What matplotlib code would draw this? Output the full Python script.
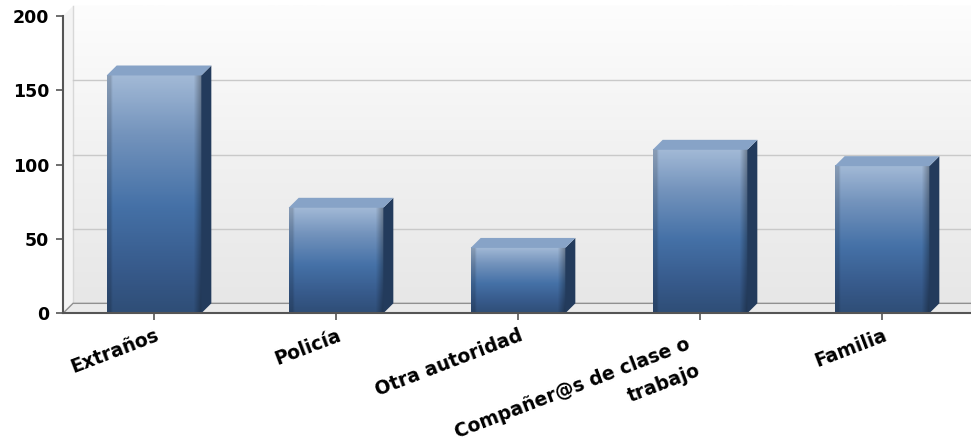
import numpy as np
import matplotlib
matplotlib.use('Agg')
import matplotlib.pyplot as plt
from matplotlib.colors import LinearSegmentedColormap
from matplotlib.patches import Polygon

# Datos
categorias = ['Extraños', 'Policía', 'Otra autoridad', 'Compañer@s de clase o\ntrabajo', 'Familia']
valores = [160, 71, 44, 110, 99]
ticks_y = [0, 50, 100, 150, 200]

# estilo
ancho = 0.52
dx, dy = 0.055, 6.7   # profundidad 3D en unidades de datos
frente = LinearSegmentedColormap.from_list('frente', [
    (0.0, '#2f4e77'), (0.18, '#375a8b'), (0.45, '#4571a7'),
    (0.75, '#7393bc'), (1.0, '#a2b9d6')])
color_top = '#87a3c7'
color_lado = '#233b5c'
rot = 21
fs_x = 13.5

plt.rcParams['font.family'] = ['DejaVu Sans']
fig = plt.figure(figsize=(9.71, 4.4), dpi=100)
ax = fig.add_axes([63 / 971, (440 - 313.3) / 440, 910 / 971, 297.3 / 440])
ax.set_xlim(-0.5, 4.5)
ax.set_ylim(0, 200)
ax.patch.set_visible(False)

x = np.arange(len(categorias))

# pared del fondo con degradado
fondo = np.linspace(0, 1, 200).reshape(-1, 1)
cm_fondo = LinearSegmentedColormap.from_list('fondo', ['#e7e7e7', '#f1f1f1', '#fdfdfd'])
ax.imshow(fondo, cmap=cm_fondo, origin='lower', aspect='auto',
          extent=[-0.5 + dx, 4.5 + dx, dy, 200 + dy], clip_on=False, zorder=0)
# pared izquierda
ax.add_patch(Polygon([(-0.5, 0), (-0.5 + dx, dy), (-0.5 + dx, 200 + dy), (-0.5, 200)],
                     closed=True, facecolor='#f4f4f4', edgecolor='none', clip_on=False, zorder=0.5))
ax.plot([-0.5 + dx, -0.5 + dx], [dy, 200 + dy], color='#d8d8d8', lw=1, clip_on=False, zorder=0.6)
# suelo
ax.add_patch(Polygon([(-0.5, 0), (4.5, 0), (4.5 + dx, dy), (-0.5 + dx, dy)],
                     closed=True, facecolor='#eaeaea', edgecolor='#909090', lw=1, clip_on=False, zorder=0.7))
# lineas de cuadricula en la pared del fondo
for v in ticks_y[1:-1]:
    ax.plot([-0.5 + dx, 4.5 + dx], [v + dy, v + dy], color='#c9c9c9', lw=1, clip_on=False, zorder=0.8)

# barras
sombra_h = np.ones(40)
sombra_h[:2] = 0.85
sombra_h[-3:] = [0.9, 0.8, 0.7]
for xi, v in zip(x, valores):
    l, r = xi - ancho / 2, xi + ancho / 2
    t = np.linspace(0, 1, 120)
    img = frente(t)[:, :3][:, None, :] * sombra_h[None, :, None]
    ax.imshow(img, origin='lower', aspect='auto', extent=[l, r, 0, v], zorder=2, interpolation='bilinear')
    ax.add_patch(Polygon([(r, 0), (r + dx, dy), (r + dx, v + dy), (r, v)],
                         closed=True, facecolor=color_lado, edgecolor='none', zorder=2.1))
    ax.add_patch(Polygon([(l, v), (l + dx, v + dy), (r + dx, v + dy), (r, v)],
                         closed=True, facecolor=color_top, edgecolor='none', zorder=2.1))

ax.set_xlim(-0.5, 4.5)
ax.set_ylim(0, 200)

# ejes
for s in ['top', 'right']:
    ax.spines[s].set_visible(False)
for s in ['left', 'bottom']:
    ax.spines[s].set_color('#555555')
    ax.spines[s].set_linewidth(1.5)
    ax.spines[s].set_zorder(3)

ax.set_yticks(ticks_y)
ax.set_yticklabels([str(t) for t in ticks_y], fontsize=12.5, fontweight='bold')
ax.tick_params(axis='y', length=5, width=1.2, color='#555555', pad=5)
ax.set_xticks(x)
ax.set_xticklabels([])
ax.tick_params(axis='x', length=5, width=1.2, color='#555555')

# etiquetas de categoria giradas (una linea por texto)
alto_linea = 21
perp = np.array([np.sin(np.radians(rot)), -np.cos(np.radians(rot))])
for xi, nombre in zip(x, categorias):
    lineas = nombre.split('\n')
    base = np.array([0.5, -9.0])
    if len(lineas) > 1:
        base = np.array([-10.0, -15.0])
    for j, linea in enumerate(lineas):
        off = base + j * alto_linea * perp
        ax.annotate(linea, xy=(xi, 0), xycoords='data', xytext=tuple(off),
                    textcoords='offset points', rotation=rot, rotation_mode='anchor',
                    ha='right', va='top', fontsize=fs_x, fontweight='bold',
                    annotation_clip=False)

fig.savefig('out.png', dpi=100)
